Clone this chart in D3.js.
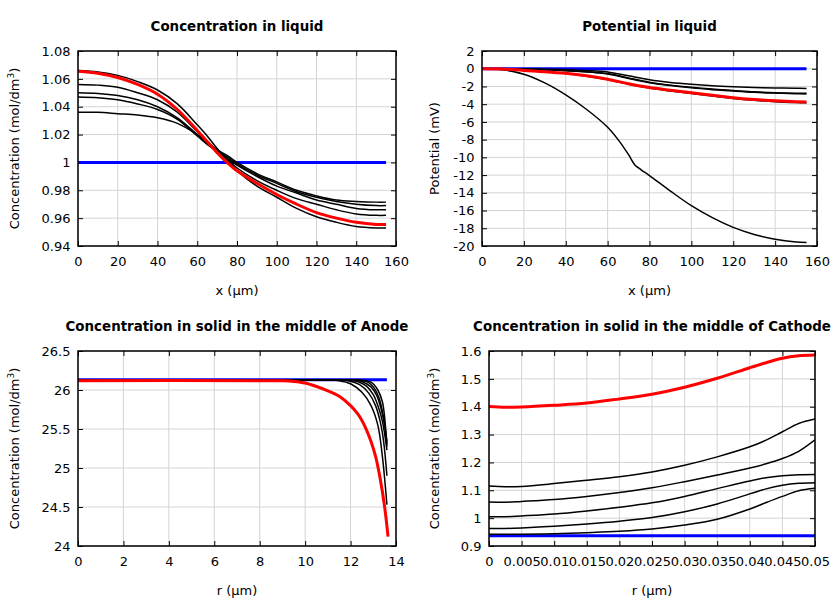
<!DOCTYPE html>
<html><head><meta charset="utf-8">
<script src="https://cdn.jsdelivr.net/npm/d3@7"></script>
<style>body{margin:0;background:#fff} text{font-family:"DejaVu Sans",sans-serif}</style>
</head><body><svg id="c" width="840" height="600"></svg>
<script>
// ---------- Panel 1: Concentration in liquid ----------
const liqX = [0,10,20,30,40,50,60,65,70,75,80,90,100,110,120,130,140,150,155];
const liqInit = [1,1,1,1,1,1,1,1,1,1,1,1,1,1,1,1,1,1,1];
const liqC1 = [1.066,1.065,1.0625,1.058,1.052,1.042,1.027,1.019,1.010,1.002,0.994,0.983,0.975,0.967,0.961,0.957,0.954,0.953,0.953];
const liqC2 = [1.056,1.0555,1.054,1.050,1.045,1.036,1.022,1.015,1.008,1.002,0.996,0.987,0.980,0.974,0.970,0.966,0.963,0.962,0.962];
const liqC3 = [1.050,1.0495,1.048,1.045,1.040,1.032,1.020,1.014,1.008,1.003,0.998,0.990,0.983,0.978,0.973,0.970,0.967,0.966,0.966];
const liqC4 = [1.047,1.0465,1.045,1.042,1.038,1.031,1.019,1.013,1.008,1.004,0.999,0.991,0.985,0.979,0.975,0.972,0.970,0.969,0.969];
const liqC5 = [1.036,1.036,1.035,1.034,1.032,1.028,1.020,1.015,1.009,1.005,1.000,0.992,0.986,0.980,0.976,0.973,0.972,0.9715,0.9715];
const liqFinal = [1.0655,1.064,1.061,1.056,1.049,1.038,1.023,1.015,1.007,1.0,0.994,0.985,0.977,0.970,0.964,0.960,0.957,0.9555,0.9555];
const liqYTicks = [0.94,0.96,0.98,1,1.02,1.04,1.06,1.08];
const liqYLabels = ["0.94","0.96","0.98","1","1.02","1.04","1.06","1.08"];
const xTicks160 = [0,20,40,60,80,100,120,140,160];

// ---------- Panel 2: Potential in liquid ----------
const potX = [0,10,20,30,40,50,60,70,80,90,100,110,120,130,140,150,155];
const potInit = [0,0,0,0,0,0,0,0,0,0,0,0,0,0,0,0,0];
const potBigX = [0,5,10,20,30,40,50,60,65,70,73,76,80,90,100,110,120,130,140,150,155];
const potBig = [0,0,-0.12,-0.62,-1.6,-2.95,-4.6,-6.6,-8.0,-9.7,-10.85,-11.4,-12.05,-13.8,-15.45,-16.8,-17.9,-18.7,-19.25,-19.55,-19.6];
const potTop = [0,0,-0.02,-0.05,-0.11,-0.2,-0.36,-0.8,-1.25,-1.55,-1.76,-1.92,-2.03,-2.11,-2.17,-2.21,-2.22];
const potMid1 = [0,0,-0.04,-0.1,-0.2,-0.33,-0.55,-1.05,-1.52,-1.85,-2.1,-2.3,-2.45,-2.6,-2.7,-2.77,-2.78];
const potMid2 = [0,0,-0.04,-0.11,-0.22,-0.36,-0.6,-1.1,-1.58,-1.9,-2.16,-2.36,-2.52,-2.66,-2.75,-2.82,-2.84];
const potLow = [0,-0.03,-0.2,-0.35,-0.55,-0.84,-1.23,-1.75,-2.18,-2.5,-2.8,-3.08,-3.35,-3.56,-3.72,-3.82,-3.85];
const potFinal = [0,-0.03,-0.19,-0.33,-0.52,-0.8,-1.18,-1.7,-2.13,-2.43,-2.72,-3.0,-3.27,-3.47,-3.62,-3.72,-3.74];
const potYTicks = [-20,-18,-16,-14,-12,-10,-8,-6,-4,-2,0,2];

// ---------- Panel 3: Concentration in solid, anode ----------
const anInitX = [0,13.6];
const anInit = [26.13,26.13];
const anB1X = [0,10.5,11.0,11.5,12.0,12.5,12.9,13.2,13.4,13.6];
const anB1 = [26.13,26.13,26.128,26.12,26.08,25.97,25.8,25.55,25.15,24.53];
const anB2X = [0,10.9,11.4,11.9,12.4,12.8,13.1,13.3,13.45,13.6];
const anB2 = [26.13,26.13,26.128,26.12,26.07,25.96,25.8,25.6,25.35,24.9];
const anB3X = [0,11.3,11.8,12.3,12.7,13.0,13.2,13.4,13.6];
const anB3 = [26.13,26.13,26.128,26.11,26.05,25.94,25.8,25.6,25.23];
const anB4X = [0,11.5,12.0,12.5,12.9,13.15,13.35,13.5,13.6];
const anB4 = [26.13,26.13,26.128,26.11,26.04,25.93,25.75,25.55,25.3];
const anB5X = [0,11.7,12.2,12.7,13.0,13.25,13.45,13.6];
const anB5 = [26.13,26.13,26.128,26.11,26.04,25.9,25.65,25.34];
const anB6X = [0,11.9,12.4,12.9,13.2,13.4,13.5,13.6];
const anB6 = [26.13,26.13,26.128,26.1,26.0,25.85,25.65,25.27];
const anFinalX = [0,8,9,9.5,10,10.5,11,11.5,12,12.3,12.5,12.7,12.9,13.1,13.3,13.5,13.65];
const anFinal = [26.12,26.12,26.118,26.11,26.09,26.045,25.99,25.92,25.80,25.70,25.61,25.49,25.34,25.15,24.87,24.5,24.12];
const anXTicks = [0,2,4,6,8,10,12,14];
const anYTicks = [24,24.5,25,25.5,26,26.5];
const anYLabels = ["24","24.5","25","25.5","26","26.5"];

// ---------- Panel 4: Concentration in solid, cathode ----------
const caX = [0,0.0025,0.005,0.01,0.015,0.02,0.025,0.03,0.035,0.04,0.0425,0.045,0.0475,0.05];
const caInit = [0.937,0.937,0.937,0.937,0.937,0.937,0.937,0.937,0.937,0.937,0.937,0.937,0.937,0.937];
const caC1 = [1.115,1.113,1.114,1.124,1.136,1.149,1.166,1.19,1.22,1.256,1.28,1.31,1.34,1.356];
const caC2 = [1.058,1.057,1.06,1.067,1.078,1.092,1.109,1.131,1.155,1.18,1.195,1.214,1.24,1.281];
const caC3 = [1.005,1.005,1.008,1.015,1.026,1.039,1.055,1.078,1.106,1.1335,1.145,1.152,1.156,1.157];
const caC4 = [0.963,0.963,0.965,0.971,0.979,0.989,1.002,1.023,1.051,1.087,1.105,1.118,1.125,1.127];
const caC5 = [0.942,0.942,0.942,0.944,0.948,0.953,0.961,0.975,0.996,1.033,1.056,1.078,1.098,1.107];
const caFinal = [1.401,1.398,1.399,1.405,1.413,1.428,1.445,1.47,1.502,1.54,1.558,1.574,1.583,1.586];
const caXTicks = [0,0.005,0.01,0.015,0.02,0.025,0.03,0.035,0.04,0.045,0.05];
const caXLabels = ["0","0.005","0.01","0.015","0.02","0.025","0.03","0.035","0.04","0.045","0.05"];
const caYTicks = [0.9,1,1.1,1.2,1.3,1.4,1.5,1.6];
const caYLabels = ["0.9","1","1.1","1.2","1.3","1.4","1.5","1.6"];

const titles = ["Concentration in liquid","Potential in liquid","Concentration in solid in the middle of Anode","Concentration in solid in the middle of Cathode"];

const svg = d3.select("#c");
const zip = (xs, ys) => xs.map((v,i)=>[v, ys[i]]);
let clipId = 0;

function panel(o){
  const g = svg.append("g");
  const x = d3.scaleLinear().domain(o.xDom).range([o.l,o.r]);
  const y = d3.scaleLinear().domain(o.yDom).range([o.b,o.t]);
  // grid
  g.append("g").selectAll("line").data(o.xTicks).join("line")
    .attr("x1",d=>x(d)).attr("x2",d=>x(d)).attr("y1",o.t).attr("y2",o.b)
    .attr("stroke","#d4d4d4").attr("stroke-width",1);
  g.append("g").selectAll("line").data(o.yTicks).join("line")
    .attr("y1",d=>y(d)).attr("y2",d=>y(d)).attr("x1",o.l).attr("x2",o.r)
    .attr("stroke","#d4d4d4").attr("stroke-width",1);
  // axes (ticks inward, mirrored)
  const fmtX = o.xLabels ? ((d,i)=>o.xLabels[i]) : (d=>String(d));
  const fmtY = o.yLabels ? ((d,i)=>o.yLabels[i]) : (d=>String(d));
  const ax = [
    [d3.axisBottom(x).tickValues(o.xTicks).tickFormat(fmtX).tickPadding(11), `translate(0,${o.b})`],
    [d3.axisTop(x).tickValues(o.xTicks).tickFormat(""), `translate(0,${o.t})`],
    [d3.axisLeft(y).tickValues(o.yTicks).tickFormat(fmtY).tickPadding(7.5), `translate(${o.l},0)`],
    [d3.axisRight(y).tickValues(o.yTicks).tickFormat(""), `translate(${o.r},0)`]
  ];
  ax.forEach(([a,tr])=>{
    const ag = g.append("g").attr("transform",tr)
      .call(a.tickSizeInner(-5).tickSizeOuter(0));
    ag.select(".domain").remove();
    ag.selectAll("text").attr("font-size",13).attr("font-family","DejaVu Sans").attr("fill","#000");
    ag.selectAll("line").attr("stroke","#000");
  });
  // series
  const id = "clip"+(clipId++);
  svg.append("clipPath").attr("id",id).append("rect")
    .attr("x",o.l).attr("y",o.t-2).attr("width",o.r-o.l).attr("height",o.b-o.t+4);
  const line = d3.line().x(d=>x(d[0])).y(d=>y(d[1])).curve(d3.curveCatmullRom.alpha(0.5));
  const sg = g.append("g").attr("clip-path",`url(#${id})`);
  o.series.forEach(s=>{
    sg.append("path").datum(zip(s.x,s.y)).attr("d",line)
      .attr("fill","none").attr("stroke",s.c).attr("stroke-width",s.w)
      .attr("stroke-linejoin","round");
  });
  // border
  g.append("rect").attr("x",o.l).attr("y",o.t).attr("width",o.r-o.l).attr("height",o.b-o.t)
    .attr("fill","none").attr("stroke","#000").attr("stroke-width",1.5);
  // title
  g.append("text").attr("x",(o.l+o.r)/2).attr("y",o.t-20).attr("text-anchor","middle")
    .attr("font-size",13.4).attr("font-weight","bold").text(o.title);
  // x label
  g.append("text").attr("x",(o.l+o.r)/2).attr("y",o.b+49).attr("text-anchor","middle")
    .attr("font-size",13).text(o.xLabel);
  // y label
  const yl = g.append("text").attr("transform",`translate(${o.yLabelX},${(o.t+o.b)/2}) rotate(-90)`)
    .attr("text-anchor","middle").attr("font-size",13);
  if (o.sup){
    yl.append("tspan").text("Concentration (mol/dm");
    yl.append("tspan").attr("font-size",9).attr("dy",-5).text("3");
    yl.append("tspan").attr("dy",5).text(")");
  } else yl.text(o.yLabel);
}

panel({l:78,r:396,t:51,b:246,xDom:[0,160],yDom:[0.94,1.08],xTicks:xTicks160,yTicks:liqYTicks,yLabels:liqYLabels,
  title:titles[0],xLabel:"x (µm)",sup:true,yLabelX:19,
  series:[
    {x:liqX,y:liqInit,c:"#0000ff",w:3},
    {x:liqX,y:liqC1,c:"#000",w:1.5},{x:liqX,y:liqC2,c:"#000",w:1.5},{x:liqX,y:liqC3,c:"#000",w:1.5},
    {x:liqX,y:liqC4,c:"#000",w:1.5},{x:liqX,y:liqC5,c:"#000",w:1.5},
    {x:liqX,y:liqFinal,c:"#ff0000",w:3}]});

panel({l:482,r:817,t:51,b:246,xDom:[0,160],yDom:[-20,2],xTicks:xTicks160,yTicks:potYTicks,
  title:titles[1],xLabel:"x (µm)",yLabel:"Potential (mV)",yLabelX:439,
  series:[
    {x:potX,y:potInit,c:"#0000ff",w:3},
    {x:potBigX,y:potBig,c:"#000",w:1.5},
    {x:potX,y:potTop,c:"#000",w:1.5},{x:potX,y:potMid1,c:"#000",w:1.5},{x:potX,y:potMid2,c:"#000",w:1.5},
    {x:potX,y:potLow,c:"#000",w:1.5},
    {x:potX,y:potFinal,c:"#ff0000",w:3}]});

panel({l:78,r:396,t:351,b:546,xDom:[0,14],yDom:[24,26.5],xTicks:anXTicks,yTicks:anYTicks,yLabels:anYLabels,
  title:titles[2],xLabel:"r (µm)",sup:true,yLabelX:19,
  series:[
    {x:anInitX,y:anInit,c:"#0000ff",w:3},
    {x:anB1X,y:anB1,c:"#000",w:1.5},{x:anB2X,y:anB2,c:"#000",w:1.5},{x:anB3X,y:anB3,c:"#000",w:1.5},
    {x:anB4X,y:anB4,c:"#000",w:1.5},{x:anB5X,y:anB5,c:"#000",w:1.5},{x:anB6X,y:anB6,c:"#000",w:1.5},
    {x:anFinalX,y:anFinal,c:"#ff0000",w:3}]});

panel({l:489,r:815,t:351,b:546,xDom:[0,0.05],yDom:[0.9,1.6],xTicks:caXTicks,xLabels:caXLabels,yTicks:caYTicks,yLabels:caYLabels,
  title:titles[3],xLabel:"r (µm)",sup:true,yLabelX:439,
  series:[
    {x:caX,y:caInit,c:"#0000ff",w:3},
    {x:caX,y:caC1,c:"#000",w:1.5},{x:caX,y:caC2,c:"#000",w:1.5},{x:caX,y:caC3,c:"#000",w:1.5},
    {x:caX,y:caC4,c:"#000",w:1.5},{x:caX,y:caC5,c:"#000",w:1.5},
    {x:caX,y:caFinal,c:"#ff0000",w:3}]});
</script></body></html>
